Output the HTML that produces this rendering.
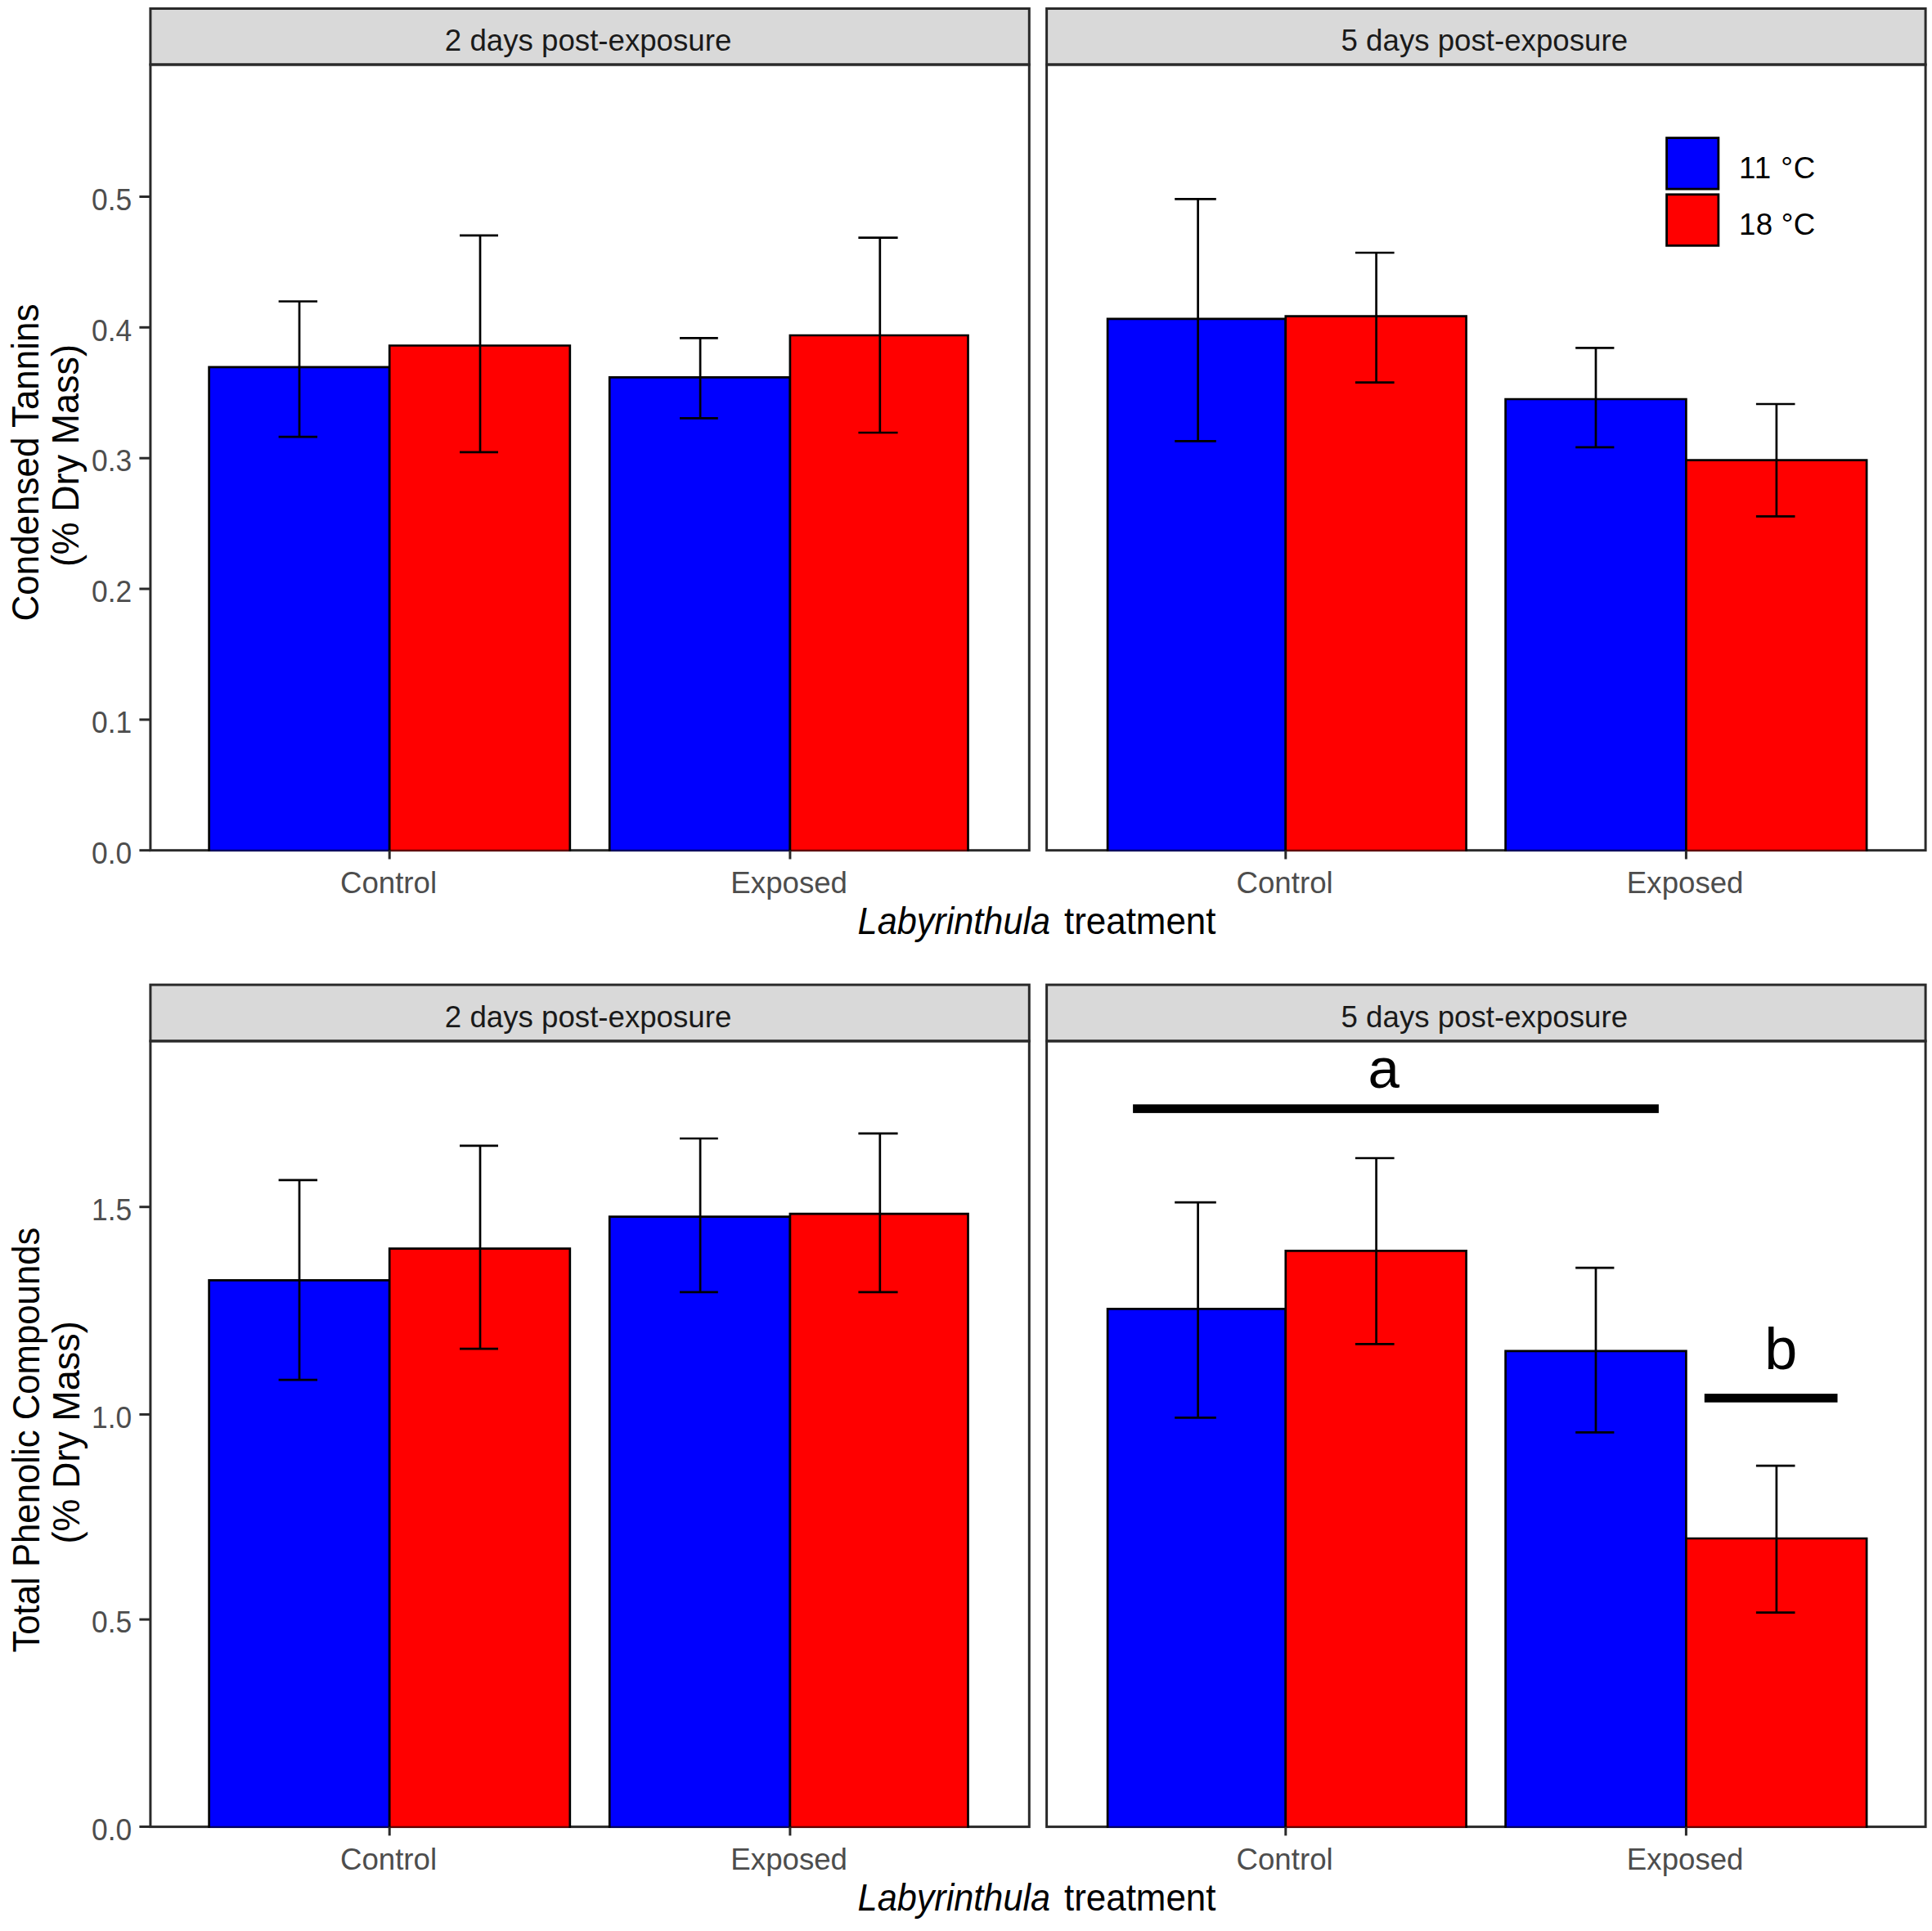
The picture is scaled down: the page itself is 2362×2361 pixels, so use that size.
<!DOCTYPE html>
<html lang="en">
<head>
<meta charset="utf-8">
<title>Condensed tannins and total phenolic compounds</title>
<style>
html,body{margin:0;padding:0;background:#fff;}
body{width:2362px;height:2361px;overflow:hidden;}
svg{display:block;font-family:"Liberation Sans", sans-serif;}
</style>
</head>
<body>
<svg width="2362" height="2361" viewBox="0 0 2362 2361">
<rect x="0" y="0" width="2362" height="2361" fill="#ffffff"/>
<rect x="183.9" y="10.5" width="1074.4" height="68.5" fill="#d9d9d9" stroke="#2a2a2a" stroke-width="3.0"/>
<rect x="183.9" y="79.0" width="1074.4" height="960.7" fill="none" stroke="#2a2a2a" stroke-width="3.0"/>
<rect x="255.6" y="448.9" width="220.6" height="592.1" fill="#0000ff"/>
<path d="M255.6 1039.9H476.2" fill="none" stroke="#000" stroke-opacity="0.6" stroke-width="2.2"/>
<path d="M255.6 1041.0V448.9H476.2V1041.0" fill="none" stroke="#000" stroke-width="2.7"/>
<rect x="476.2" y="422.5" width="220.6" height="618.5" fill="#ff0000"/>
<path d="M476.2 1039.9H696.8" fill="none" stroke="#000" stroke-opacity="0.6" stroke-width="2.2"/>
<path d="M476.2 1041.0V422.5H696.8V1041.0" fill="none" stroke="#000" stroke-width="2.7"/>
<rect x="745.2" y="461.3" width="220.7" height="579.7" fill="#0000ff"/>
<path d="M745.2 1039.9H965.9" fill="none" stroke="#000" stroke-opacity="0.6" stroke-width="2.2"/>
<path d="M745.2 1041.0V461.3H965.9V1041.0" fill="none" stroke="#000" stroke-width="2.7"/>
<rect x="965.9" y="410.0" width="217.6" height="631.0" fill="#ff0000"/>
<path d="M965.9 1039.9H1183.5" fill="none" stroke="#000" stroke-opacity="0.6" stroke-width="2.2"/>
<path d="M965.9 1041.0V410.0H1183.5V1041.0" fill="none" stroke="#000" stroke-width="2.7"/>
<path d="M340.6 368.5H388.0M366.0 368.5V534.1M340.6 534.1H388.0" fill="none" stroke="#000" stroke-width="2.7"/>
<path d="M562.0 287.9H609.0M587.0 287.9V552.9M562.0 552.9H609.0" fill="none" stroke="#000" stroke-width="2.7"/>
<path d="M831.0 413.4H877.8M856.1 413.4V511.4M831.0 511.4H877.8" fill="none" stroke="#000" stroke-width="2.7"/>
<path d="M1049.4 290.7H1097.6M1075.8 290.7V529.0M1049.4 529.0H1097.6" fill="none" stroke="#000" stroke-width="2.7"/>
<text x="719.1" y="62.0" font-size="36.67" fill="#1a1a1a" text-anchor="middle">2 days post-exposure</text>
<path d="M476.2 1039.7V1050.5" stroke="#2a2a2a" stroke-width="3.0"/>
<text x="475.0" y="1091.7" font-size="36.67" fill="#4d4d4d" text-anchor="middle">Control</text>
<path d="M965.9 1039.7V1050.5" stroke="#2a2a2a" stroke-width="3.0"/>
<text x="964.7" y="1091.7" font-size="36.67" fill="#4d4d4d" text-anchor="middle">Exposed</text>
<rect x="1279.6" y="10.5" width="1074.5" height="68.5" fill="#d9d9d9" stroke="#2a2a2a" stroke-width="3.0"/>
<rect x="1279.6" y="79.0" width="1074.5" height="960.7" fill="none" stroke="#2a2a2a" stroke-width="3.0"/>
<rect x="1354.1" y="389.9" width="217.7" height="651.1" fill="#0000ff"/>
<path d="M1354.1 1039.9H1571.8" fill="none" stroke="#000" stroke-opacity="0.6" stroke-width="2.2"/>
<path d="M1354.1 1041.0V389.9H1571.8V1041.0" fill="none" stroke="#000" stroke-width="2.7"/>
<rect x="1571.8" y="386.7" width="220.8" height="654.3" fill="#ff0000"/>
<path d="M1571.8 1039.9H1792.6" fill="none" stroke="#000" stroke-opacity="0.6" stroke-width="2.2"/>
<path d="M1571.8 1041.0V386.7H1792.6V1041.0" fill="none" stroke="#000" stroke-width="2.7"/>
<rect x="1840.6" y="488.0" width="220.8" height="553.0" fill="#0000ff"/>
<path d="M1840.6 1039.9H2061.4" fill="none" stroke="#000" stroke-opacity="0.6" stroke-width="2.2"/>
<path d="M1840.6 1041.0V488.0H2061.4V1041.0" fill="none" stroke="#000" stroke-width="2.7"/>
<rect x="2061.4" y="562.7" width="220.7" height="478.3" fill="#ff0000"/>
<path d="M2061.4 1039.9H2282.1" fill="none" stroke="#000" stroke-opacity="0.6" stroke-width="2.2"/>
<path d="M2061.4 1041.0V562.7H2282.1V1041.0" fill="none" stroke="#000" stroke-width="2.7"/>
<path d="M1436.2 243.3H1486.8M1464.6 243.3V539.3M1436.2 539.3H1486.8" fill="none" stroke="#000" stroke-width="2.7"/>
<path d="M1656.9 309.0H1704.6M1682.6 309.0V467.7M1656.9 467.7H1704.6" fill="none" stroke="#000" stroke-width="2.7"/>
<path d="M1926.2 425.4H1973.4M1951.0 425.4V546.9M1926.2 546.9H1973.4" fill="none" stroke="#000" stroke-width="2.7"/>
<path d="M2146.9 494.0H2194.5M2171.9 494.0V631.3M2146.9 631.3H2194.5" fill="none" stroke="#000" stroke-width="2.7"/>
<text x="1814.8" y="62.0" font-size="36.67" fill="#1a1a1a" text-anchor="middle">5 days post-exposure</text>
<path d="M1571.8 1039.7V1050.5" stroke="#2a2a2a" stroke-width="3.0"/>
<text x="1570.6" y="1091.7" font-size="36.67" fill="#4d4d4d" text-anchor="middle">Control</text>
<path d="M2061.4 1039.7V1050.5" stroke="#2a2a2a" stroke-width="3.0"/>
<text x="2060.2" y="1091.7" font-size="36.67" fill="#4d4d4d" text-anchor="middle">Exposed</text>
<path d="M170.4 1039.7H183.9" stroke="#2a2a2a" stroke-width="3.0"/>
<text x="112.1" y="1055.9" font-size="36.67" fill="#4d4d4d" textLength="49.2" lengthAdjust="spacingAndGlyphs">0.0</text>
<path d="M170.4 879.9H183.9" stroke="#2a2a2a" stroke-width="3.0"/>
<text x="112.1" y="896.1" font-size="36.67" fill="#4d4d4d" textLength="49.2" lengthAdjust="spacingAndGlyphs">0.1</text>
<path d="M170.4 720.0H183.9" stroke="#2a2a2a" stroke-width="3.0"/>
<text x="112.1" y="736.2" font-size="36.67" fill="#4d4d4d" textLength="49.2" lengthAdjust="spacingAndGlyphs">0.2</text>
<path d="M170.4 560.2H183.9" stroke="#2a2a2a" stroke-width="3.0"/>
<text x="112.1" y="576.4" font-size="36.67" fill="#4d4d4d" textLength="49.2" lengthAdjust="spacingAndGlyphs">0.3</text>
<path d="M170.4 400.3H183.9" stroke="#2a2a2a" stroke-width="3.0"/>
<text x="112.1" y="416.5" font-size="36.67" fill="#4d4d4d" textLength="49.2" lengthAdjust="spacingAndGlyphs">0.4</text>
<path d="M170.4 240.5H183.9" stroke="#2a2a2a" stroke-width="3.0"/>
<text x="112.1" y="256.7" font-size="36.67" fill="#4d4d4d" textLength="49.2" lengthAdjust="spacingAndGlyphs">0.5</text>
<text x="1048.6" y="1141.7" font-size="46.0" fill="#000" font-style="italic" textLength="235.5" lengthAdjust="spacingAndGlyphs">Labyrinthula</text>
<text x="1301" y="1141.7" font-size="46.0" fill="#000" textLength="185.5" lengthAdjust="spacingAndGlyphs">treatment</text>
<rect x="183.9" y="1204.1" width="1074.4" height="68.8" fill="#d9d9d9" stroke="#2a2a2a" stroke-width="3.0"/>
<rect x="183.9" y="1272.9" width="1074.4" height="960.7" fill="none" stroke="#2a2a2a" stroke-width="3.0"/>
<rect x="255.6" y="1565.3" width="220.6" height="669.6" fill="#0000ff"/>
<path d="M255.6 2233.8H476.2" fill="none" stroke="#000" stroke-opacity="0.6" stroke-width="2.2"/>
<path d="M255.6 2234.9V1565.3H476.2V2234.9" fill="none" stroke="#000" stroke-width="2.7"/>
<rect x="476.2" y="1526.7" width="220.6" height="708.2" fill="#ff0000"/>
<path d="M476.2 2233.8H696.8" fill="none" stroke="#000" stroke-opacity="0.6" stroke-width="2.2"/>
<path d="M476.2 2234.9V1526.7H696.8V2234.9" fill="none" stroke="#000" stroke-width="2.7"/>
<rect x="745.2" y="1487.6" width="220.7" height="747.3" fill="#0000ff"/>
<path d="M745.2 2233.8H965.9" fill="none" stroke="#000" stroke-opacity="0.6" stroke-width="2.2"/>
<path d="M745.2 2234.9V1487.6H965.9V2234.9" fill="none" stroke="#000" stroke-width="2.7"/>
<rect x="965.9" y="1484.2" width="217.6" height="750.7" fill="#ff0000"/>
<path d="M965.9 2233.8H1183.5" fill="none" stroke="#000" stroke-opacity="0.6" stroke-width="2.2"/>
<path d="M965.9 2234.9V1484.2H1183.5V2234.9" fill="none" stroke="#000" stroke-width="2.7"/>
<path d="M340.6 1442.9H388.0M366.0 1442.9V1687.1M340.6 1687.1H388.0" fill="none" stroke="#000" stroke-width="2.7"/>
<path d="M562.0 1400.9H609.0M587.0 1400.9V1649.1M562.0 1649.1H609.0" fill="none" stroke="#000" stroke-width="2.7"/>
<path d="M831.0 1392.0H877.8M856.1 1392.0V1579.8M831.0 1579.8H877.8" fill="none" stroke="#000" stroke-width="2.7"/>
<path d="M1049.4 1385.8H1097.6M1075.8 1385.8V1579.8M1049.4 1579.8H1097.6" fill="none" stroke="#000" stroke-width="2.7"/>
<text x="719.1" y="1255.6" font-size="36.67" fill="#1a1a1a" text-anchor="middle">2 days post-exposure</text>
<path d="M476.2 2233.6V2244.4" stroke="#2a2a2a" stroke-width="3.0"/>
<text x="475.0" y="2285.6" font-size="36.67" fill="#4d4d4d" text-anchor="middle">Control</text>
<path d="M965.9 2233.6V2244.4" stroke="#2a2a2a" stroke-width="3.0"/>
<text x="964.7" y="2285.6" font-size="36.67" fill="#4d4d4d" text-anchor="middle">Exposed</text>
<rect x="1279.6" y="1204.1" width="1074.5" height="68.8" fill="#d9d9d9" stroke="#2a2a2a" stroke-width="3.0"/>
<rect x="1279.6" y="1272.9" width="1074.5" height="960.7" fill="none" stroke="#2a2a2a" stroke-width="3.0"/>
<rect x="1354.1" y="1600.4" width="217.7" height="634.5" fill="#0000ff"/>
<path d="M1354.1 2233.8H1571.8" fill="none" stroke="#000" stroke-opacity="0.6" stroke-width="2.2"/>
<path d="M1354.1 2234.9V1600.4H1571.8V2234.9" fill="none" stroke="#000" stroke-width="2.7"/>
<rect x="1571.8" y="1529.4" width="220.8" height="705.5" fill="#ff0000"/>
<path d="M1571.8 2233.8H1792.6" fill="none" stroke="#000" stroke-opacity="0.6" stroke-width="2.2"/>
<path d="M1571.8 2234.9V1529.4H1792.6V2234.9" fill="none" stroke="#000" stroke-width="2.7"/>
<rect x="1840.6" y="1651.8" width="220.8" height="583.1" fill="#0000ff"/>
<path d="M1840.6 2233.8H2061.4" fill="none" stroke="#000" stroke-opacity="0.6" stroke-width="2.2"/>
<path d="M1840.6 2234.9V1651.8H2061.4V2234.9" fill="none" stroke="#000" stroke-width="2.7"/>
<rect x="2061.4" y="1881.0" width="220.7" height="353.9" fill="#ff0000"/>
<path d="M2061.4 2233.8H2282.1" fill="none" stroke="#000" stroke-opacity="0.6" stroke-width="2.2"/>
<path d="M2061.4 2234.9V1881.0H2282.1V2234.9" fill="none" stroke="#000" stroke-width="2.7"/>
<path d="M1436.2 1470.2H1486.8M1464.6 1470.2V1733.4M1436.2 1733.4H1486.8" fill="none" stroke="#000" stroke-width="2.7"/>
<path d="M1656.9 1416.0H1704.6M1682.6 1416.0V1643.4M1656.9 1643.4H1704.6" fill="none" stroke="#000" stroke-width="2.7"/>
<path d="M1926.2 1550.1H1973.4M1951.0 1550.1V1751.3M1926.2 1751.3H1973.4" fill="none" stroke="#000" stroke-width="2.7"/>
<path d="M2146.9 1792.1H2194.5M2171.9 1792.1V1971.6M2146.9 1971.6H2194.5" fill="none" stroke="#000" stroke-width="2.7"/>
<text x="1814.8" y="1255.6" font-size="36.67" fill="#1a1a1a" text-anchor="middle">5 days post-exposure</text>
<path d="M1571.8 2233.6V2244.4" stroke="#2a2a2a" stroke-width="3.0"/>
<text x="1570.6" y="2285.6" font-size="36.67" fill="#4d4d4d" text-anchor="middle">Control</text>
<path d="M2061.4 2233.6V2244.4" stroke="#2a2a2a" stroke-width="3.0"/>
<text x="2060.2" y="2285.6" font-size="36.67" fill="#4d4d4d" text-anchor="middle">Exposed</text>
<path d="M170.4 2233.5H183.9" stroke="#2a2a2a" stroke-width="3.0"/>
<text x="112.1" y="2249.7" font-size="36.67" fill="#4d4d4d" textLength="49.2" lengthAdjust="spacingAndGlyphs">0.0</text>
<path d="M170.4 1980.1H183.9" stroke="#2a2a2a" stroke-width="3.0"/>
<text x="112.1" y="1996.3" font-size="36.67" fill="#4d4d4d" textLength="49.2" lengthAdjust="spacingAndGlyphs">0.5</text>
<path d="M170.4 1729.4H183.9" stroke="#2a2a2a" stroke-width="3.0"/>
<text x="112.1" y="1745.6" font-size="36.67" fill="#4d4d4d" textLength="49.2" lengthAdjust="spacingAndGlyphs">1.0</text>
<path d="M170.4 1475.7H183.9" stroke="#2a2a2a" stroke-width="3.0"/>
<text x="112.1" y="1491.9" font-size="36.67" fill="#4d4d4d" textLength="49.2" lengthAdjust="spacingAndGlyphs">1.5</text>
<text x="1048.6" y="2335.6" font-size="46.0" fill="#000" font-style="italic" textLength="235.5" lengthAdjust="spacingAndGlyphs">Labyrinthula</text>
<text x="1301" y="2335.6" font-size="46.0" fill="#000" textLength="185.5" lengthAdjust="spacingAndGlyphs">treatment</text>
<text transform="translate(47.0 565.5) rotate(-90)" font-size="46.0" fill="#000" text-anchor="middle" textLength="388" lengthAdjust="spacingAndGlyphs">Condensed Tannins</text>
<text transform="translate(95.8 557.1) rotate(-90)" font-size="46.0" fill="#000" text-anchor="middle" textLength="272" lengthAdjust="spacingAndGlyphs">(% Dry Mass)</text>
<text transform="translate(47.8 1760.6) rotate(-90)" font-size="46.0" fill="#000" text-anchor="middle" textLength="520" lengthAdjust="spacingAndGlyphs">Total Phenolic Compounds</text>
<text transform="translate(97.0 1751.4) rotate(-90)" font-size="46.0" fill="#000" text-anchor="middle" textLength="272" lengthAdjust="spacingAndGlyphs">(% Dry Mass)</text>
<rect x="2037.6" y="168.6" width="63.3" height="62.5" fill="#0000ff" stroke="#000" stroke-width="2.8"/>
<rect x="2037.6" y="237.8" width="63.3" height="62.5" fill="#ff0000" stroke="#000" stroke-width="2.8"/>
<text x="2126" y="217.8" font-size="36.67" fill="#000" textLength="93.3" lengthAdjust="spacing">11 °C</text>
<text x="2126" y="286.6" font-size="36.67" fill="#000" textLength="93.3" lengthAdjust="spacing">18 °C</text>
<rect x="1385.1" y="1350.3" width="642.8" height="10.6" fill="#000"/>
<rect x="2083.8" y="1704.1" width="162.7" height="10.6" fill="#000"/>
<text x="1691.7" y="1329.9" font-size="69" fill="#000" text-anchor="middle">a</text>
<text x="2177.2" y="1673.6" font-size="72" fill="#000" text-anchor="middle">b</text>
</svg>
</body>
</html>
